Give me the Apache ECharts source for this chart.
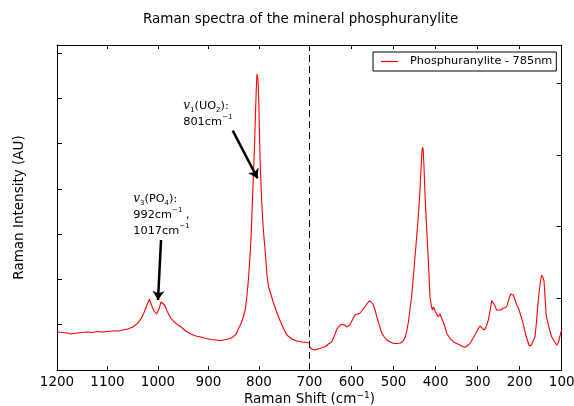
<!DOCTYPE html>
<html>
<head>
<meta charset="utf-8">
<script src="https://cdn.jsdelivr.net/npm/echarts@6.0.0/dist/echarts.min.js"></script>
<style>
  html, body { margin: 0; padding: 0; background: #fff; }
  #chart { width: 574px; height: 406px; }
</style>
</head>
<body>
<div id="chart"></div>
<script>
// 1200-700 cm-1 section (left panel)
const shiftA = [1200,1190,1180,1172,1160,1150,1140,1130,1120,1110,1100,1090,1080,1070,1060,1050,1042,1035,1028,1022,
  1017,1013,1008,1003,998,994,991,987,982,975,968,960,952,945,935,925,915,905,895,885,
  875,865,857,850,845,840,836,831,827,824,821,818,815.5,813,811,809,807,805.5,804,803,
  802,800.5,799,797.5,795,792,788,784,781,776,772,765,758,752,745,735,725,715,705,700];
const countsA = [839,828,817,795,817,828,839,828,850,839,850,861,861,883,905,949,1015,1104,1258,1435,
  1561,1435,1302,1236,1347,1501,1530,1435,1302,1148,1060,993,927,861,795,751,728,695,673,662,
  651,673,695,740,795,927,1015,1170,1347,1634,1987,2472,2980,3753,4305,4901,5629,6181,6534,6556,
  6402,5960,5188,4525,3797,3179,2649,2075,1832,1656,1501,1280,1082,927,773,684,640,618,607,596];

// 700-100 cm-1 section (right panel, own intensity scale)
const shiftB = [700,695,688,680,672,663,655,647,641,635,629,623,617,611,604,598,592,586,580,574,
  568,562,558,553,548,544,540,534,528,522,516,508,500,492,484,477,472,468,464,460,
  457,452,447,442,438,435,432.5,431,429.5,427.5,425,422,419,416,413.5,410,407.5,405,400,394,
  389.5,385,381.7,377,373.6,366,358,350,342,336,330,324,318,310,302,298,294.4,289,284,279,
  274.6,270,266.5,263,259,255,251,245,239,233,229.4,225,221.3,217,215,211,207,203,197,191,
  186,181,177,175.4,172,168,163.5,160,157,154,151,148,145,142,139.5,137,134.3,130,124,118,
  112,108,104,101,100];
const countsB = [321,293,279,293,307,325,363,395,474,568,614,637,628,604,628,697,767,781,791,837,
  883,934,962,948,907,837,743,628,512,460,418,391,372,370,377,404,460,558,697,893,
  1022,1367,1720,2078,2417,2762,3040,3106,3068,2817,2417,2064,1720,1367,1022,893,837,879,809,743,
  781,711,669,586,512,442,395,370,349,328,317,342,372,453,534,586,614,579,558,614,
  697,837,967,955,900,837,813,837,861,872,907,1004,1060,1067,1046,976,907,865,753,628,
  502,404,335,311,349,404,464,669,893,1070,1213,1325,1297,1241,1004,767,697,586,464,404,
  349,377,474,544,558];

const seriesName = 'Phosphuranylite - 785nm';
const titleText = 'Raman spectra of the mineral phosphuranylite';
const yName = 'Raman Intensity (AU)';

const chart = echarts.init(document.getElementById('chart'));

function xAxisCfg(grid, min, max, pos, labels) {
  return {
    gridIndex: grid, type: 'value', min: min, max: max, interval: 100, inverse: true,
    position: pos,
    axisLine: { show: true, onZero: false, lineStyle: { color: '#000', width: 1 } },
    axisTick: { show: true, inside: true, length: 4, lineStyle: { color: '#000' } },
    axisLabel: {
      show: labels, color: '#000', fontSize: 13.5, margin: 5,
      showMinLabel: true, showMaxLabel: true,
      formatter: v => (grid === 0 && v === 700) ? '' : String(v)
    },
    splitLine: { show: false }
  };
}

function yAxisCfg(grid, max, pos) {
  return {
    gridIndex: grid, type: 'value', min: 0, max: max, interval: 1000, position: pos,
    axisLine: { show: true, lineStyle: { color: '#000', width: 1 } },
    axisTick: { show: true, inside: true, length: 5, lineStyle: { color: '#000' } },
    axisLabel: { show: false },
    splitLine: { show: false }
  };
}

const txt = { fontSize: 11.3, lineHeight: 16, color: '#000' };
const annRich = {
  t: txt,
  v: { fontSize: 12, lineHeight: 16, color: '#000', fontFamily: 'DejaVu Serif', fontStyle: 'italic' },
  sb: { fontSize: 7, lineHeight: 7, verticalAlign: 'bottom', color: '#000' },
  sp: { fontSize: 7, lineHeight: 7, verticalAlign: 'top', color: '#000' }
};

const yLeft = yAxisCfg(0, 7174, 'left');
yLeft.name = yName;
yLeft.nameLocation = 'middle';
yLeft.nameGap = 31;
yLeft.nameTextStyle = { fontSize: 13.5, color: '#000' };

const option = {
  animation: false,
  textStyle: { fontFamily: 'DejaVu Sans' },
  title: [
    { text: titleText, left: 143, top: 12, padding: 0,
      textStyle: { fontSize: 13.5, fontWeight: 'normal', color: '#000' } },
    { text: '{a|Raman Shift (cm}{s|−1}{a|)}', left: 244, top: 391, padding: 0,
      textStyle: { fontWeight: 'normal', rich: {
        a: { fontSize: 13.5, lineHeight: 16, color: '#000', fontWeight: 'normal' },
        s: { fontSize: 9, lineHeight: 9, verticalAlign: 'top', color: '#000', fontWeight: 'normal' }
      } } }
  ],
  legend: {
    data: [{ name: seriesName, icon: 'rect' }], left: 373, top: 52,
    itemWidth: 17, itemHeight: 1.2, padding: [3, 4, 3, 8],
    borderColor: '#000', borderWidth: 1, borderRadius: 0,
    textStyle: { fontSize: 11.3, lineHeight: 13, color: '#000', padding: [0, 0, 0, 7] }
  },
  grid: [
    { left: 57, top: 45, width: 252.5, height: 325, outerBoundsMode: 'none' },
    { left: 309.5, top: 45, width: 252.2, height: 325, outerBoundsMode: 'none' }
  ],
  xAxis: [
    xAxisCfg(0, 700, 1200, 'bottom', true),
    xAxisCfg(0, 700, 1200, 'top', false),
    xAxisCfg(1, 100, 700, 'bottom', true),
    xAxisCfg(1, 100, 700, 'top', false)
  ],
  yAxis: [yLeft, yAxisCfg(1, 4533, 'right')],
  series: [
    {
      name: seriesName, type: 'line', xAxisIndex: 0, yAxisIndex: 0,
      data: shiftA.map((x, i) => [x, countsA[i]]),
      symbol: 'none', lineStyle: { color: '#ff0000', width: 1.1 }, itemStyle: { color: '#ff0000' },
      markLine: {
        silent: true, symbol: ['none', 'arrow'], symbolSize: 9,
        lineStyle: { color: '#000', width: 2.5, type: 'solid' },
        label: { show: false },
        data: [
          [{ coord: [852, 5283] }, { coord: [803, 4232] }],
          [{ coord: [994, 2870] }, { coord: [1000, 1545] }]
        ]
      },
      markPoint: {
        silent: true, symbol: 'circle', symbolSize: 0,
        label: { show: true, position: [0, 0], align: 'left', verticalAlign: 'top', rich: annRich },
        data: [
          { coord: [950, 6004], label: { formatter: '{v|v}{sb|1}{t|(UO}{sb|2}{t|):}\n{t|801cm}{sp|−1}' } },
          { coord: [1049, 3951], label: { formatter: '{v|v}{sb|3}{t|(PO}{sb|4}{t|):}\n{t|992cm}{sp|−1}{t| ,}\n{t|1017cm}{sp|−1}' } }
        ]
      }
    },
    {
      name: seriesName, type: 'line', xAxisIndex: 2, yAxisIndex: 1,
      data: shiftB.map((x, i) => [x, countsB[i]]),
      symbol: 'none', lineStyle: { color: '#ff0000', width: 1.1 }, itemStyle: { color: '#ff0000' },
      markLine: {
        silent: true, symbol: 'none',
        lineStyle: { color: '#000', width: 1, type: [7, 4] },
        label: { show: false },
        data: [{ xAxis: 700 }]
      }
    }
  ]
};

chart.setOption(option);
</script>
</body>
</html>
